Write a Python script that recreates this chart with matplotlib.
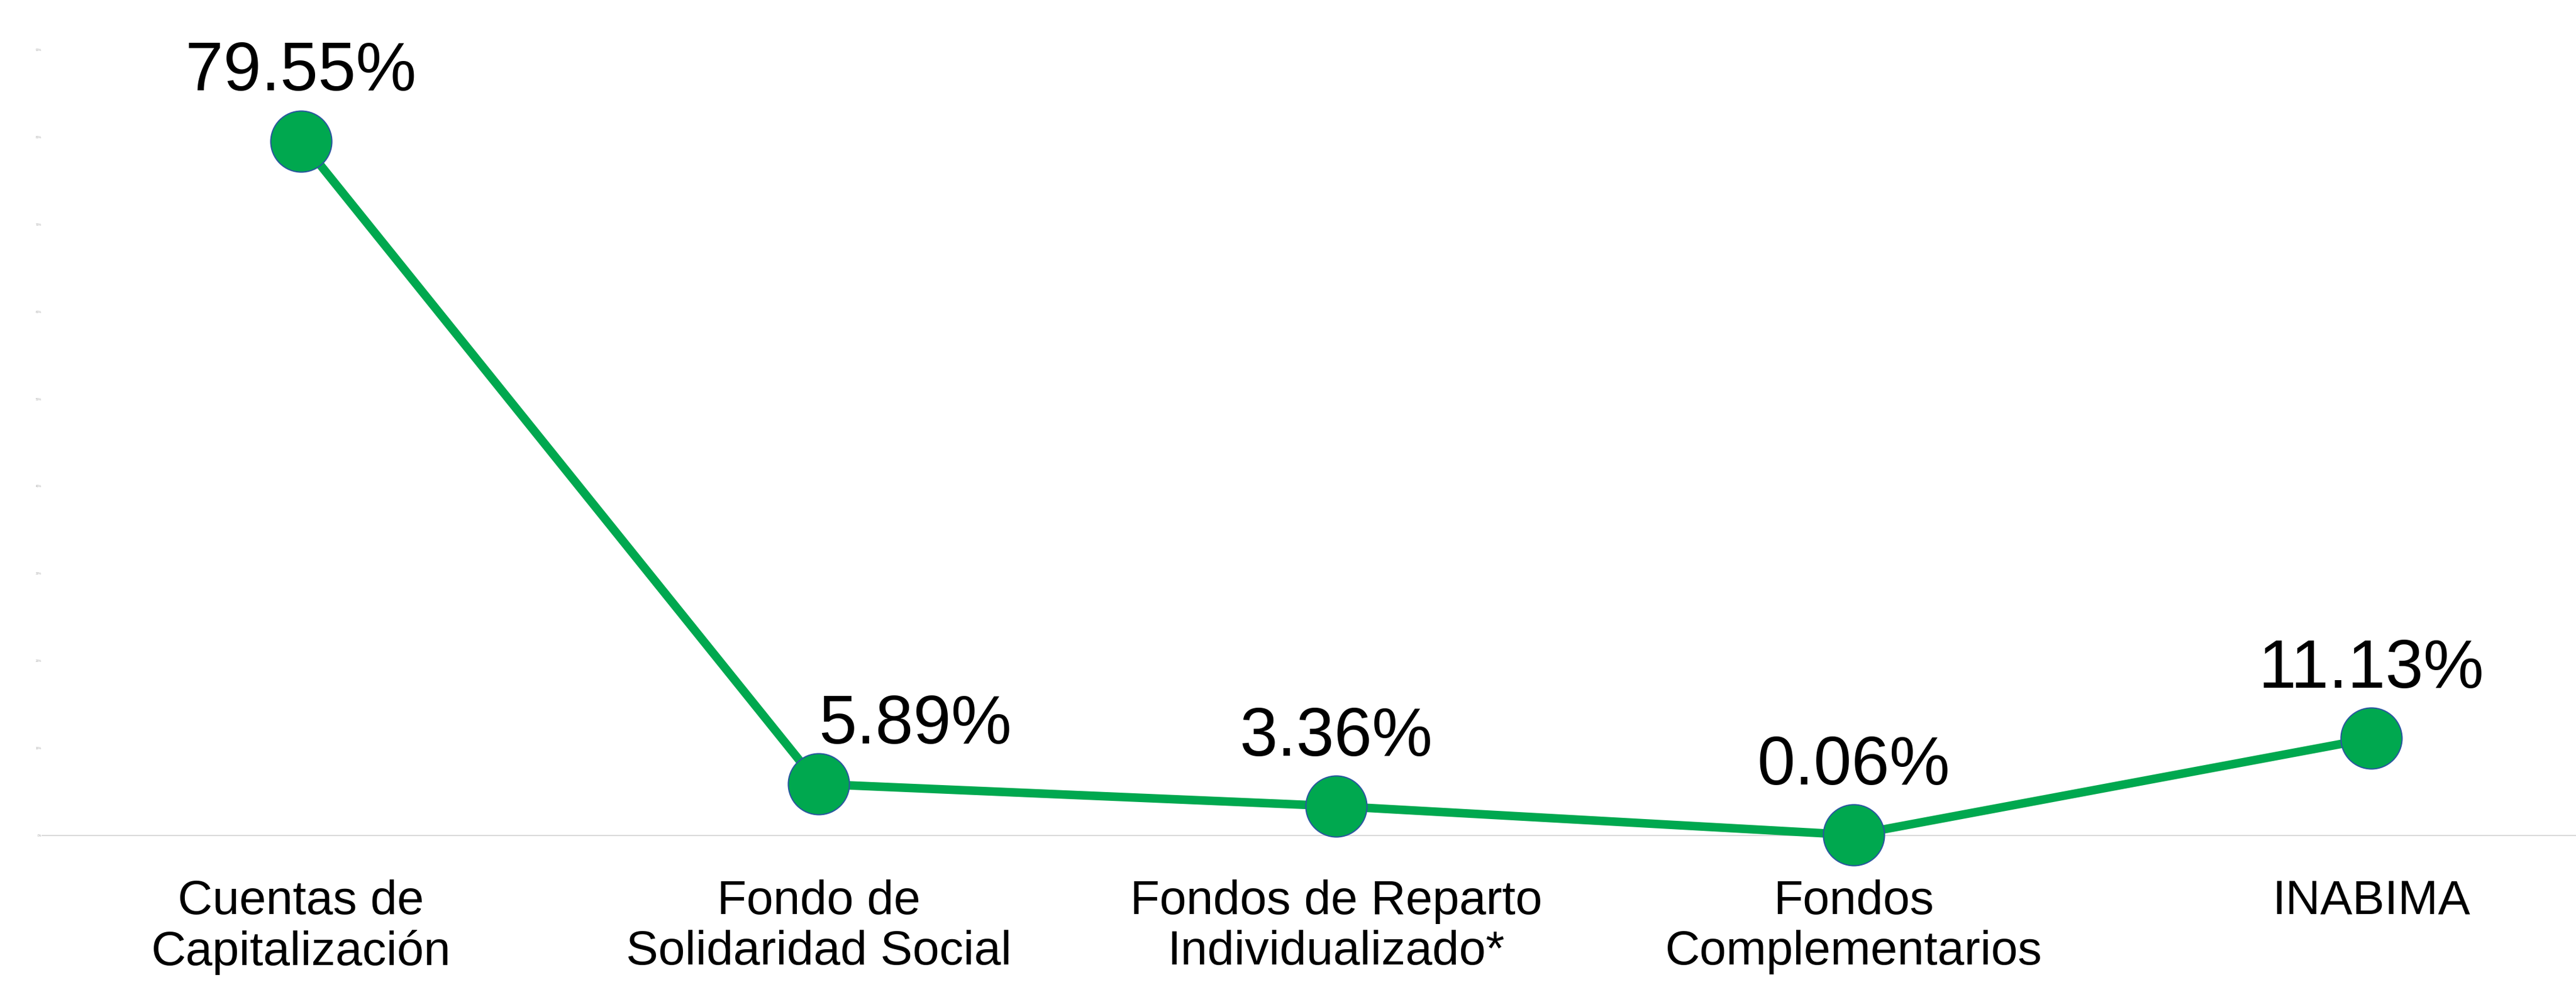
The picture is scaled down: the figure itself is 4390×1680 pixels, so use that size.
import numpy as np
import matplotlib
matplotlib.use('Agg')
import matplotlib.pyplot as plt

# datos del gráfico
categorias = ['Cuentas de\nCapitalización', 'Fondo de\nSolidaridad Social',
              'Fondos de Reparto\nIndividualizado*', 'Fondos\nComplementarios', 'INABIMA']
porcentajes = [79.55, 5.89, 3.36, 0.06, 11.13]
ticks_y = [0, 10, 20, 30, 40, 50, 60, 70, 80, 90]

verde = '#00A84F'
borde = '#2A56A0'

plt.rcParams['font.family'] = ['Liberation Sans', 'DejaVu Sans']

fig = plt.figure(figsize=(43.9, 16.8), dpi=100)
ax = fig.add_axes([72 / 4390, 255 / 1680, 4410 / 4390, 1340 / 1680])

x = np.arange(len(categorias))
ax.plot(x, porcentajes, color=verde, lw=10.5, marker='o', ms=75,
        mfc=verde, mec=borde, mew=1.5, clip_on=False, zorder=3)

# etiquetas de valor sobre cada punto (la segunda va desplazada a la derecha)
offsets = [(0, 62), (0, 50), (0, 62), (0, 62), (0, 62)]
for i, (xi, v, off) in enumerate(zip(x, porcentajes, offsets)):
    ax.annotate(f'{v:.2f}%', (xi, v), xytext=off, textcoords='offset points',
                ha='left' if i == 1 else 'center', va='baseline',
                fontsize=83.5, color='black', zorder=4)

ax.set_xlim(-0.5, 4.5)
ax.set_ylim(0, 90)
ax.set_xticks(x)
ax.set_xticklabels(categorias, fontsize=59, linespacing=1.17)
ax.set_yticks(ticks_y)
ax.set_yticklabels([f'{t}%' for t in ticks_y])
ax.tick_params(axis='x', length=0, pad=54)
ax.tick_params(axis='y', length=0, pad=1, labelsize=3.5, labelcolor='#A6A6A6')

for s in ['top', 'right', 'left']:
    ax.spines[s].set_visible(False)
ax.spines['bottom'].set_color('#D9D9D9')
ax.spines['bottom'].set_linewidth(1.5)

fig.savefig('out.png', dpi=100)
